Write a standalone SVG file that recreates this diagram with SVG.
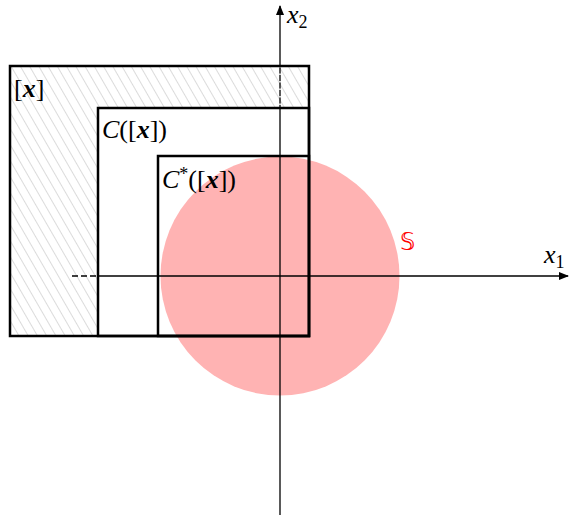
<svg xmlns="http://www.w3.org/2000/svg" width="570" height="515" viewBox="0 0 570 515">
<style>
.box{fill:none;stroke:#000;stroke-width:2.5}
.ax{stroke:#000;stroke-width:1.3;fill:none}
.lbl{font-family:"Liberation Serif","DejaVu Serif",serif;font-size:26px;fill:#000}
.it{font-style:italic}
.bi{font-style:italic;font-weight:bold}
</style>
<defs>
<pattern id="hatch" patternUnits="userSpaceOnUse" width="8" height="8" patternTransform="rotate(-30)">
<line x1="0" y1="0" x2="0" y2="8" stroke="#cfcfcf" stroke-width="1.5"/>
</pattern>
<marker id="arr" markerWidth="10" markerHeight="10" refX="9" refY="5" orient="auto" markerUnits="userSpaceOnUse">
<path d="M0,1 L10,5 L0,9 Z" fill="#000"/>
</marker>
</defs>
<g id="circle-S">
<circle cx="280" cy="276" r="119.5" fill="#ffb3b3"/>
</g>
<g id="hatched-region">
<path d="M10,66 H309 V108 H98 V336 H10 Z" fill="#fff"/>
<path d="M10,66 H309 V108 H98 V336 H10 Z" fill="url(#hatch)"/>
</g>
<g id="connectors">
<line class="ax" x1="98" y1="276" x2="568" y2="276" marker-end="url(#arr)"/>
<line class="ax" x1="72" y1="276" x2="98" y2="276" stroke-dasharray="6,3"/>
<line class="ax" x1="280" y1="515" x2="280" y2="6" marker-end="url(#arr)"/>
<line x1="280" y1="66" x2="280" y2="108" stroke="#fff" stroke-width="1.6" stroke-dasharray="1.5,6"/>
</g>
<g id="box-x">
<rect class="box" x="10" y="66" width="299" height="270"/>
<text class="lbl" x="14" y="97">[<tspan class="bi">x</tspan>]</text>
</g>
<g id="box-Cx">
<rect class="box" x="98" y="108" width="211" height="228"/>
<text class="lbl" x="102" y="138"><tspan class="it">C</tspan>([<tspan class="bi">x</tspan>])</text>
</g>
<g id="box-Cstar">
<rect class="box" x="158" y="156" width="151" height="180"/>
<text class="lbl" x="162" y="188"><tspan class="it">C</tspan><tspan font-size="18" dy="-8">*</tspan><tspan dy="8">([</tspan><tspan class="bi">x</tspan>])</text>
</g>
<g id="labels">
<text class="lbl it" x="287" y="23">x<tspan font-size="18" font-style="normal" dy="5">2</tspan></text>
<text class="lbl it" x="544" y="263">x<tspan font-size="18" font-style="normal" dy="5">1</tspan></text>
<text x="400" y="250" style="fill:#ff0000;font-family:'DejaVu Sans',serif;font-size:24px">𝕊</text>
</g>
</svg>
